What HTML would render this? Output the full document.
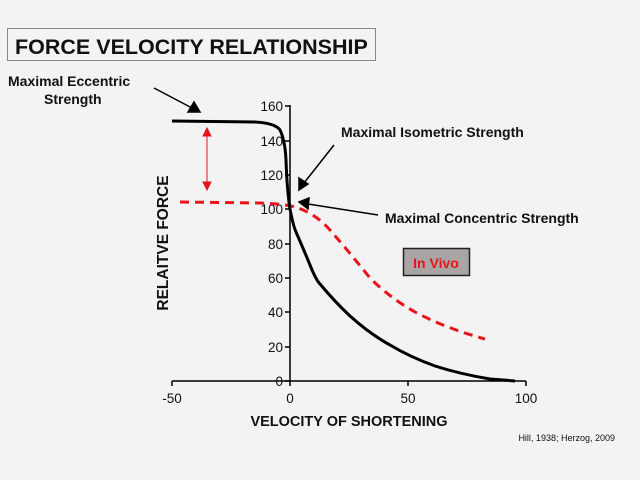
<!DOCTYPE html>
<html><head><style>
html,body{margin:0;padding:0;background:#f4f3f3;}
svg{display:block;font-family:"Liberation Sans",Arial,sans-serif;}
</style></head><body>
<svg width="640" height="480" viewBox="0 0 640 480">
<rect width="640" height="480" fill="#f4f3f3"/>
<rect x="7.5" y="28.5" width="368" height="32" fill="#f4f3f3" stroke="#888" stroke-width="1"/>
<text x="15" y="54" font-size="21.5" font-weight="bold" fill="#111">FORCE VELOCITY RELATIONSHIP</text>
<text x="8" y="86" font-size="14" font-weight="bold" fill="#111">Maximal Eccentric</text>
<text x="44" y="104" font-size="14" font-weight="bold" fill="#111">Strength</text>
<text x="341" y="137" font-size="14" font-weight="bold" fill="#111">Maximal Isometric Strength</text>
<text x="385" y="223" font-size="14" font-weight="bold" fill="#111">Maximal Concentric Strength</text>
<text x="163" y="243" font-size="15.5" font-weight="bold" fill="#111" text-anchor="middle" transform="rotate(-90 163 243)" dy="5">RELAITVE FORCE</text>
<text x="349" y="426" font-size="14.5" font-weight="bold" fill="#111" text-anchor="middle">VELOCITY OF SHORTENING</text>
<text x="615" y="441" font-size="9" fill="#111" text-anchor="end">Hill, 1938; Herzog, 2009</text>
<g stroke="#000" stroke-width="1.5">
<line x1="290" y1="105" x2="290" y2="382"/>
<line x1="172" y1="381" x2="526" y2="381"/>
<line x1="172" y1="381" x2="172" y2="386"/>
<line x1="290" y1="381" x2="290" y2="386"/>
<line x1="408" y1="381" x2="408" y2="386"/>
<line x1="526" y1="381" x2="526" y2="386"/>
<line x1="285" y1="381" x2="290" y2="381"/>
<line x1="285" y1="347" x2="290" y2="347"/>
<line x1="285" y1="312" x2="290" y2="312"/>
<line x1="285" y1="278" x2="290" y2="278"/>
<line x1="285" y1="244" x2="290" y2="244"/>
<line x1="285" y1="209" x2="290" y2="209"/>
<line x1="285" y1="175" x2="290" y2="175"/>
<line x1="285" y1="141" x2="290" y2="141"/>
<line x1="285" y1="106" x2="290" y2="106"/>
</g>
<g font-size="13.5" fill="#111" text-anchor="end">
<text x="283" y="386">0</text>
<text x="283" y="352">20</text>
<text x="283" y="317">40</text>
<text x="283" y="283">60</text>
<text x="283" y="249">80</text>
<text x="283" y="214">100</text>
<text x="283" y="180">120</text>
<text x="283" y="146">140</text>
<text x="283" y="111">160</text>
</g>
<g font-size="13.5" fill="#111" text-anchor="middle">
<text x="172" y="403">-50</text>
<text x="290" y="403">0</text>
<text x="408" y="403">50</text>
<text x="526" y="403">100</text>
</g>
<path d="M180 202 L260 203 Q285 204 295 207 Q315 213 330 230 Q350 253 370 278 Q390 298 415 312 Q445 328 485 339" fill="none" stroke="#e8141a" stroke-width="3" stroke-dasharray="9,6"/>
<path d="M172 121 L255 122 Q275 123 280 130 Q285 140 286 160 Q287 190 290 209 Q293 225 296 232 Q303 248 310 265 Q316 280 320 284 Q335 302 350 316 Q370 334 390 345 Q410 357 435 366 Q460 374 490 379 Q505 380 515 381" fill="none" stroke="#000" stroke-width="3"/>
<g stroke="#000" stroke-width="1.5" fill="#000">
<line x1="154" y1="88" x2="192" y2="108"/>
<polygon points="200,112 188,112 194,102"/>
<line x1="334" y1="145" x2="304" y2="183"/>
<polygon points="299,190 299,178 308,184"/>
<line x1="378" y1="215" x2="308" y2="204"/>
<polygon points="299,202 309,198 308,209"/>
</g>
<g stroke="#e8141a" stroke-width="1" fill="#e8141a">
<line x1="207" y1="133" x2="207" y2="186"/>
<polygon points="207,128 203,136 211,136"/>
<polygon points="207,190 203,182 211,182"/>
</g>
<rect x="403.5" y="248.5" width="66" height="27" fill="#a9a5a4" stroke="#222" stroke-width="1.5"/>
<text x="436" y="268" font-size="14" font-weight="bold" fill="#e8141a" text-anchor="middle">In Vivo</text>
</svg>
</body></html>
